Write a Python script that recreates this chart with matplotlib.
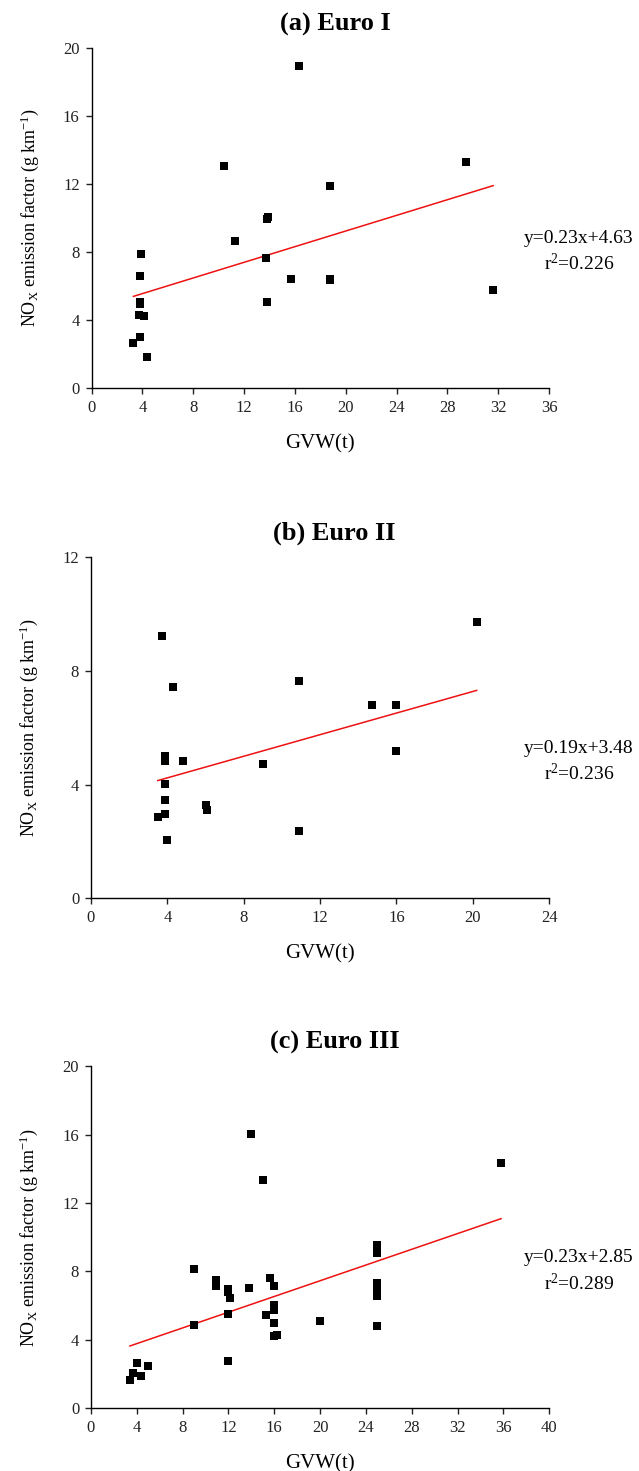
import numpy as np
import matplotlib
matplotlib.use("Agg")
import matplotlib.pyplot as plt

plt.rcParams["font.family"] = "Liberation Serif"
plt.rcParams["mathtext.fontset"] = "custom"
plt.rcParams["mathtext.rm"] = "Liberation Serif"
plt.rcParams["mathtext.it"] = "Liberation Serif:italic"

# Euro I trucks: gross vehicle weight (t) and NOx emission factor (g/km)
gvw_e1 = [16.3, 10.4, 29.5, 18.8, 13.8, 13.9, 11.3, 3.9, 3.8, 13.7, 15.7,
          18.8, 18.8, 31.6, 3.8, 3.8, 13.8, 3.7, 4.1, 3.8, 3.3, 4.4]
nox_e1 = [18.96, 13.04, 13.28, 11.88, 9.96, 10.04, 8.67, 7.88, 6.59, 7.63, 6.43,
          6.43, 6.37, 5.76, 5.04, 4.92, 5.04, 4.27, 4.22, 2.98, 2.65, 1.82]

# Euro II
gvw_e2 = [3.7, 20.2, 4.3, 10.9, 14.7, 16.0, 16.0, 3.9, 3.9, 4.8, 9.0,
          3.9, 3.9, 6.0, 6.1, 3.9, 3.5, 4.0, 10.9]
nox_e2 = [9.24, 9.74, 7.43, 7.65, 6.80, 6.80, 5.20, 5.01, 4.84, 4.83, 4.72,
          4.04, 3.45, 3.30, 3.11, 2.98, 2.86, 2.05, 2.37]

# Euro III
gvw_e3 = [14.0, 15.0, 35.8, 25.0, 25.0, 25.0, 25.0, 25.0, 25.0, 25.0, 25.0,
          9.0, 9.0, 10.9, 10.9, 12.0, 12.0, 12.1, 12.0, 12.0, 13.8, 15.6,
          16.0, 16.0, 16.0, 15.3, 16.0, 16.0, 16.2, 20.0, 4.0, 3.7, 4.4, 3.4, 5.0]
nox_e3 = [16.06, 13.33, 14.36, 9.54, 9.35, 9.06, 7.30, 7.07, 6.81, 6.58, 4.78,
          8.14, 4.84, 7.47, 7.14, 6.97, 6.77, 6.42, 5.48, 2.77, 7.04, 7.61,
          7.16, 6.01, 5.74, 5.46, 5.00, 4.22, 4.27, 5.09, 2.61, 2.07, 1.87, 1.62, 2.48]

# linear fits y = a*x + b and r^2
titles = ["(a) Euro I", "(b) Euro II", "(c) Euro III"]
slopes = [0.23, 0.19, 0.23]
intercepts = [4.63, 3.48, 2.85]
r2 = ["0.226", "0.236", "0.289"]

xmax = [36, 24, 40]
ymax = [20, 12, 20]

gvw_all = [gvw_e1, gvw_e2, gvw_e3]
nox_all = [nox_e1, nox_e2, nox_e3]

fig = plt.figure(figsize=(6.39, 14.71), dpi=100)

# axes boxes in figure fractions (left, bottom, width, height)
boxes = [
    [0.1432, 0.7362, 0.716, 0.2313],
    [0.1424, 0.3893, 0.717, 0.2318],
    [0.1424, 0.0428, 0.717, 0.2323],
]

for i in range(3):
    ax = fig.add_axes(boxes[i])
    x = np.array(gvw_all[i])
    y = np.array(nox_all[i])

    ax.scatter(x, y, marker="s", s=30, color="black", linewidths=0, zorder=3)

    xl = np.array([x.min(), x.max()])
    ax.plot(xl, slopes[i] * xl + intercepts[i], color="#ee1111", lw=1.1, zorder=2)

    ax.set_xlim(0, xmax[i])
    ax.set_ylim(0, ymax[i])
    ax.set_xticks(np.arange(0, xmax[i] + 1, 4))
    ax.set_yticks(np.arange(0, ymax[i] + 1, 4))

    ax.spines["top"].set_visible(False)
    ax.spines["right"].set_visible(False)
    ax.spines["left"].set_linewidth(1.0)
    ax.spines["bottom"].set_linewidth(1.0)
    ax.tick_params(direction="out", length=4.5, width=1.0, labelsize=12,
                   pad=4, colors="#222222")

    ax.set_xlabel("GVW(t)", fontsize=15, labelpad=13)
    ax.set_ylabel(r"NO$_\mathrm{X}$ emission factor (g km$^{-1}$)",
                  fontsize=13, labelpad=16)

    ax.text(0.532, 1.035, titles[i], transform=ax.transAxes, ha="center",
            va="bottom", fontsize=19, fontweight="bold")

    eq = "y=%.2fx+%.2f" % (slopes[i], intercepts[i])
    ax.text(1.065, 0.44, eq, transform=ax.transAxes, ha="center",
            va="center", fontsize=14)
    ax.text(1.065, 0.365, r"r$^2$=" + r2[i], transform=ax.transAxes,
            ha="center", va="center", fontsize=14)

fig.savefig("out.png", dpi=100)
